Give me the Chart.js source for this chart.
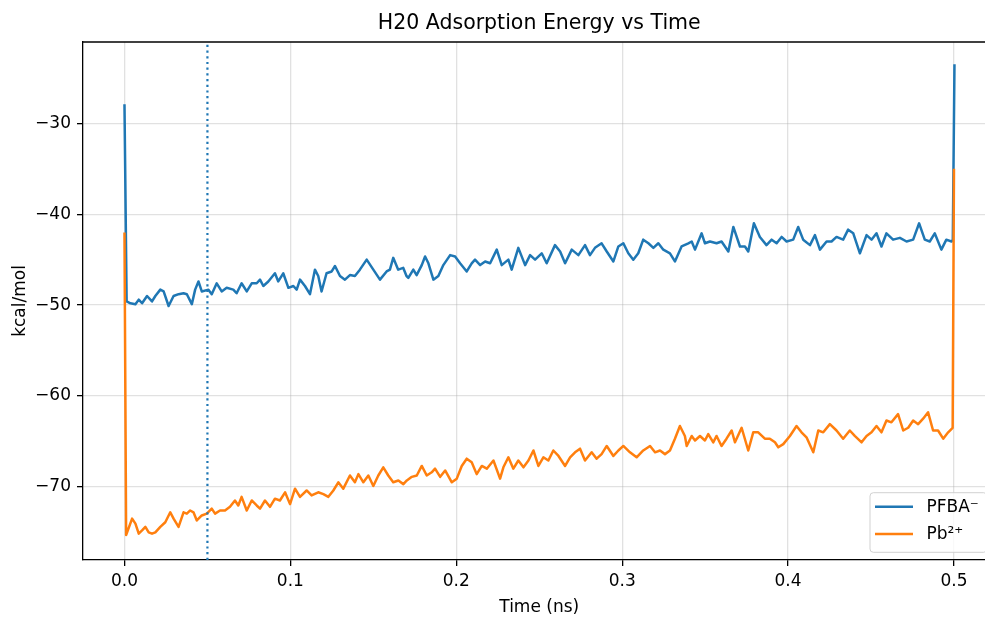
<!DOCTYPE html>
<html><head><meta charset="utf-8">
<script src="https://cdn.jsdelivr.net/npm/chart.js@4.4.1/dist/chart.umd.min.js"></script>
<style>html,body{margin:0;padding:0;background:#fff;overflow:hidden}canvas{display:block}</style>
</head><body>
<canvas id="c" width="985" height="619" style="width:985px;height:619px"></canvas>
<script>
const chartTitle = 'H20 Adsorption Energy vs Time';
const xLabel = 'Time (ns)';
const yLabel = 'kcal/mol';
const seriesNames = ['PFBA\u207B', 'Pb\u00B2\u207A'];
const xTickValues = [0, 0.1, 0.2, 0.3, 0.4, 0.5];
const yTickValues = [-70, -60, -50, -40, -30];
const markerTime = 0.05;

const pfbaTime = [0,0.0013,0.0036,0.0066,0.0086,0.0106,0.0136,0.0166,0.0186,0.0216,0.0236,0.0266,0.0296,0.0326,0.0356,0.0376,0.0406,0.0426,0.0446,0.0466,0.0506,0.0526,0.0556,0.0586,0.0616,0.0656,0.0676,0.0706,0.0737,0.0767,0.0797,0.0817,0.0837,0.0867,0.0907,0.0927,0.0957,0.0988,0.1018,0.1038,0.1058,0.1088,0.1118,0.1148,0.1168,0.1188,0.1218,0.1249,0.1269,0.1299,0.1329,0.1359,0.1389,0.1419,0.1460,0.1500,0.1540,0.1580,0.1600,0.1620,0.1650,0.1680,0.1700,0.1711,0.1741,0.1761,0.1792,0.1812,0.1832,0.1862,0.1892,0.1922,0.1963,0.1993,0.2023,0.2063,0.2093,0.2113,0.2144,0.2174,0.2204,0.2244,0.2274,0.2314,0.2334,0.2374,0.2415,0.2445,0.2475,0.2515,0.2545,0.2595,0.2626,0.2656,0.2696,0.2736,0.2776,0.2806,0.2836,0.2876,0.2907,0.2947,0.2977,0.3007,0.3037,0.3067,0.3097,0.3127,0.3158,0.3188,0.3218,0.3248,0.3288,0.3318,0.3358,0.3399,0.3419,0.3439,0.3479,0.3499,0.3529,0.3569,0.3599,0.3640,0.3670,0.3710,0.3740,0.3760,0.3794,0.3830,0.3870,0.3901,0.3931,0.3961,0.3991,0.4031,0.4061,0.4091,0.4132,0.4162,0.4192,0.4232,0.4262,0.4292,0.4332,0.4362,0.4393,0.4433,0.4473,0.4503,0.4533,0.4563,0.4593,0.4633,0.4674,0.4714,0.4754,0.4790,0.4824,0.4854,0.4884,0.4924,0.4954,0.4985,0.4993,0.5003];
const pfbaEnergy = [-27.9,-49.6,-49.8,-49.9,-49.4,-49.8,-49.0,-49.6,-49.0,-48.3,-48.5,-50.1,-49.0,-48.8,-48.7,-48.8,-49.9,-48.3,-47.4,-48.5,-48.3,-48.8,-47.6,-48.5,-48.1,-48.3,-48.7,-47.6,-48.5,-47.6,-47.6,-47.2,-47.9,-47.4,-46.5,-47.4,-46.5,-48.1,-47.9,-48.3,-47.2,-47.9,-48.8,-46.1,-46.8,-48.5,-46.5,-46.3,-45.7,-46.8,-47.2,-46.7,-46.8,-46.1,-45.0,-46.1,-47.2,-46.3,-46.1,-44.8,-46.1,-45.9,-46.8,-47.0,-46.1,-46.7,-45.6,-44.65,-45.4,-47.2,-46.8,-45.6,-44.5,-44.65,-45.4,-46.3,-45.4,-45.0,-45.6,-45.2,-45.4,-43.9,-45.6,-45.0,-46.1,-43.7,-45.6,-44.5,-45.0,-44.3,-45.4,-43.4,-44.1,-45.4,-43.9,-44.5,-43.4,-44.5,-43.7,-43.2,-44.1,-45.2,-43.55,-43.2,-44.3,-45.0,-44.3,-42.8,-43.2,-43.7,-43.2,-43.9,-44.3,-45.2,-43.55,-43.2,-43.0,-43.9,-42.1,-43.2,-43.0,-43.2,-43.0,-44.1,-41.4,-43.55,-43.55,-44.1,-41.0,-42.5,-43.4,-42.8,-43.2,-42.5,-43.0,-42.8,-41.4,-42.8,-43.4,-42.3,-43.9,-43.0,-43.0,-42.5,-42.8,-41.7,-42.1,-44.3,-42.3,-42.8,-42.1,-43.55,-42.1,-42.8,-42.6,-43.0,-42.8,-41.0,-42.8,-43.0,-42.1,-43.9,-42.8,-43.0,-42.8,-23.5];

const pbTime = [0,0.0010,0.0046,0.0066,0.0086,0.0106,0.0126,0.0146,0.0166,0.0186,0.0216,0.0246,0.0276,0.0296,0.0326,0.0356,0.0376,0.0396,0.0416,0.0436,0.0466,0.0496,0.0526,0.0546,0.0576,0.0606,0.0636,0.0666,0.0686,0.0706,0.0737,0.0767,0.0797,0.0817,0.0847,0.0877,0.0907,0.0937,0.0968,0.0998,0.1028,0.1058,0.1098,0.1128,0.1168,0.1199,0.1229,0.1259,0.1289,0.1319,0.1359,0.1389,0.1410,0.1440,0.1470,0.1500,0.1530,0.1560,0.1590,0.1620,0.1651,0.1681,0.1702,0.1732,0.1762,0.1792,0.1822,0.1852,0.1872,0.1903,0.1933,0.1973,0.2003,0.2033,0.2063,0.2093,0.2123,0.2154,0.2184,0.2224,0.2264,0.2284,0.2314,0.2344,0.2374,0.2405,0.2435,0.2465,0.2495,0.2525,0.2555,0.2585,0.2616,0.2656,0.2686,0.2716,0.2746,0.2776,0.2816,0.2846,0.2876,0.2907,0.2947,0.2977,0.3007,0.3047,0.3087,0.3127,0.3168,0.3198,0.3228,0.3258,0.3288,0.3318,0.3348,0.3378,0.3389,0.3419,0.3439,0.3469,0.3499,0.3519,0.3549,0.3569,0.3599,0.3629,0.3660,0.3680,0.3720,0.3760,0.3790,0.3820,0.3860,0.3890,0.3921,0.3941,0.3971,0.4011,0.4051,0.4081,0.4111,0.4152,0.4182,0.4212,0.4252,0.4292,0.4332,0.4372,0.4402,0.4443,0.4473,0.4503,0.4533,0.4563,0.4593,0.4623,0.4663,0.4694,0.4724,0.4754,0.4784,0.4814,0.4844,0.4874,0.4904,0.4935,0.4965,0.4992,0.5000];
const pbEnergy = [-42.0,-75.3,-73.5,-74.05,-75.15,-74.8,-74.4,-75.0,-75.15,-75.0,-74.4,-73.9,-72.8,-73.5,-74.4,-72.8,-72.95,-72.6,-72.8,-73.7,-73.15,-72.95,-72.4,-72.95,-72.6,-72.6,-72.2,-71.5,-72.05,-71.1,-72.6,-71.5,-72.05,-72.4,-71.5,-72.2,-71.3,-71.5,-70.6,-71.9,-70.2,-71.1,-70.4,-70.95,-70.6,-70.8,-71.1,-70.4,-69.5,-70.2,-68.75,-69.5,-68.6,-69.5,-68.75,-69.9,-68.75,-67.85,-68.75,-69.5,-69.3,-69.7,-69.3,-68.9,-68.75,-67.7,-68.75,-68.4,-68.0,-68.9,-68.2,-69.5,-69.1,-67.7,-66.9,-67.3,-68.6,-67.7,-68.0,-67.1,-69.1,-67.85,-66.75,-68.0,-67.1,-67.85,-67.1,-66.0,-67.7,-66.75,-67.1,-66.0,-66.6,-67.7,-66.75,-66.2,-65.8,-67.1,-66.2,-66.9,-66.4,-65.5,-66.6,-66.0,-65.5,-66.2,-66.75,-66.0,-65.5,-66.2,-66.0,-66.4,-66.0,-64.7,-63.3,-64.4,-65.5,-64.4,-64.9,-64.4,-64.9,-64.2,-65.1,-64.4,-65.5,-64.7,-63.8,-65.1,-63.5,-66.0,-64.0,-64.0,-64.7,-64.7,-65.1,-65.65,-65.3,-64.4,-63.3,-64.0,-64.55,-66.2,-63.8,-64.0,-63.1,-63.8,-64.7,-63.8,-64.4,-65.1,-64.4,-64.0,-63.3,-64.0,-62.7,-62.9,-62.0,-63.8,-63.5,-62.7,-63.1,-62.5,-61.8,-63.8,-63.8,-64.7,-64.0,-63.5,-35.0];

const FAMILY = '"DejaVu Sans", sans-serif';
const BLUE = '#1f77b4', ORANGE = '#ff7f0e';
const X_FULL_MAX = 0.525;

const decor = {
  id: 'decor',
  afterDatasetsDraw(chart) {
    const {ctx, chartArea: a, scales} = chart;
    const x = scales.x.getPixelForValue(markerTime);
    ctx.save();
    ctx.beginPath(); ctx.rect(a.left, a.top, a.right - a.left, a.bottom - a.top); ctx.clip();
    ctx.strokeStyle = BLUE; ctx.lineWidth = 2.2; ctx.setLineDash([2.2, 3.5]);
    ctx.beginPath(); ctx.moveTo(x, a.bottom); ctx.lineTo(x, a.top); ctx.stroke();
    ctx.restore();
  },
  afterDraw(chart) {
    const {ctx, chartArea: a, scales} = chart;
    const fullRight = scales.x.getPixelForValue(X_FULL_MAX);
    const cx = (a.left + fullRight) / 2;
    ctx.save();
    // top spine
    ctx.strokeStyle = '#000'; ctx.lineWidth = 1.3;
    ctx.beginPath(); ctx.moveTo(a.left, a.top); ctx.lineTo(a.right + 2, a.top); ctx.stroke();
    // title
    ctx.fillStyle = '#000';
    ctx.textAlign = 'center'; ctx.textBaseline = 'alphabetic';
    ctx.font = '20.5px ' + FAMILY;
    ctx.fillText(chartTitle, cx, 29);
    ctx.font = '17px ' + FAMILY;
    ctx.fillText(xLabel, cx, 612);
    ctx.save();
    ctx.translate(24.5, (a.top + a.bottom) / 2);
    ctx.rotate(-Math.PI / 2);
    ctx.fillText(yLabel, 0, 0);
    ctx.restore();
    // legend
    const bx = 870, by = 492.7, bw = 117, bh = 59.6, r = 3.4;
    ctx.beginPath();
    ctx.moveTo(bx + r, by); ctx.lineTo(bx + bw - r, by); ctx.arcTo(bx + bw, by, bx + bw, by + r, r);
    ctx.lineTo(bx + bw, by + bh - r); ctx.arcTo(bx + bw, by + bh, bx + bw - r, by + bh, r);
    ctx.lineTo(bx + r, by + bh); ctx.arcTo(bx, by + bh, bx, by + bh - r, r);
    ctx.lineTo(bx, by + r); ctx.arcTo(bx, by, bx + r, by, r); ctx.closePath();
    ctx.fillStyle = 'rgba(255,255,255,0.8)'; ctx.fill();
    ctx.strokeStyle = 'rgba(204,204,204,0.9)'; ctx.lineWidth = 1; ctx.stroke();
    const rows = [[seriesNames[0], BLUE, 506.7], [seriesNames[1], ORANGE, 534]];
    ctx.textAlign = 'left'; ctx.textBaseline = 'middle';
    rows.forEach(([name, col, y]) => {
      ctx.strokeStyle = col; ctx.lineWidth = 2.5;
      ctx.beginPath(); ctx.moveTo(875, y); ctx.lineTo(913, y); ctx.stroke();
      ctx.fillStyle = '#000';
      ctx.fillText(name, 926.5, y + 1);
    });
    ctx.restore();
  }
};

const gridCfg = {color: 'rgba(176,176,176,0.38)', lineWidth: 1.3, tickColor: '#000', tickLength: 6, tickWidth: 1.3};

new Chart(document.getElementById('c'), {
  type: 'scatter',
  data: {
    datasets: [
      {label: seriesNames[0], data: pfbaTime.map((t, i) => ({x: t, y: pfbaEnergy[i]})), showLine: true,
       borderColor: BLUE, backgroundColor: BLUE, borderWidth: 2.5, pointRadius: 0, tension: 0, order: 1,
       borderJoinStyle: 'round', borderCapStyle: 'butt'},
      {label: seriesNames[1], data: pbTime.map((t, i) => ({x: t, y: pbEnergy[i]})), showLine: true,
       borderColor: ORANGE, backgroundColor: ORANGE, borderWidth: 2.5, pointRadius: 0, tension: 0, order: 0,
       borderJoinStyle: 'round', borderCapStyle: 'butt'}
    ]
  },
  options: {
    responsive: false, animation: false, devicePixelRatio: 1,
    layout: {padding: {top: 42, right: 0, left: 0, bottom: 0}},
    plugins: {legend: {display: false}, tooltip: {enabled: false}, title: {display: false}},
    scales: {
      x: {
        type: 'linear', min: -0.025, max: 0.5187,
        afterBuildTicks: s => { s.ticks = xTickValues.map(v => ({value: v})); },
        afterFit: s => { s.height = 59; },
        ticks: {callback: v => Number(v).toFixed(1), font: {family: FAMILY, size: 17}, color: '#000', padding: 5, maxRotation: 0, autoSkip: false},
        grid: gridCfg,
        border: {color: '#000', width: 1.3}
      },
      y: {
        type: 'linear', min: -78.05, max: -21.05,
        afterBuildTicks: s => { s.ticks = yTickValues.map(v => ({value: v})); },
        afterFit: s => { s.width = 83; },
        ticks: {callback: v => (v < 0 ? '\u2212' : '') + Math.abs(v), font: {family: FAMILY, size: 17}, color: '#000', padding: 6, autoSkip: false},
        grid: gridCfg,
        border: {color: '#000', width: 1.3}
      }
    }
  },
  plugins: [decor]
});
</script>
</body></html>
